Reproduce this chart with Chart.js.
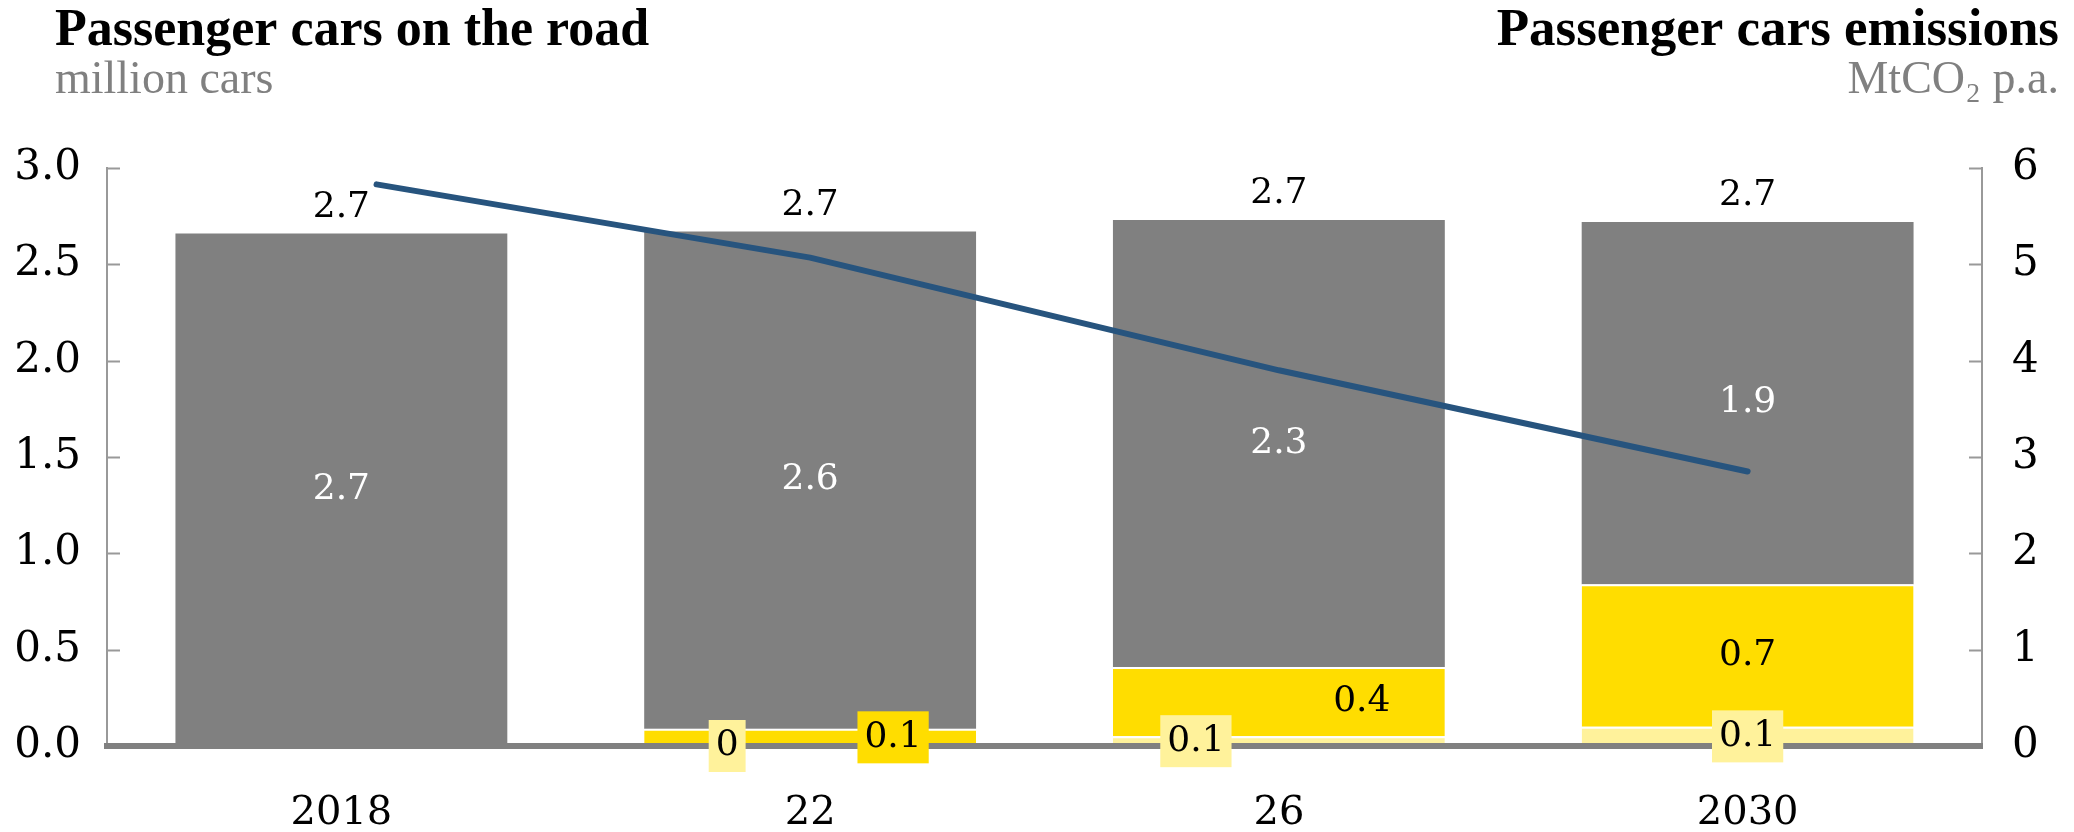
<!DOCTYPE html>
<html>
<head>
<meta charset="utf-8">
<script src="https://cdn.jsdelivr.net/npm/chart.js@4.4.1/dist/chart.umd.min.js"></script>
<style>
  html, body { margin: 0; padding: 0; background: #fff; }
  #wrap { width: 2074px; height: 832px; }
</style>
</head>
<body>
<div id="wrap"><canvas id="carsCanvas" width="2074" height="832"></canvas></div>
<script>
// data
var years = [2018, 2022, 2026, 2030];
var yearLabels = ['2018', '22', '26', '2030'];
var lightYellowCars = [null, 0, 0.05, 0.10];
var yellowCars = [null, 0.09, 0.36, 0.74];
var greyCars = [2.66, 2.58, 2.32, 1.88];
var emissionYears = [2018.3, 2022, 2026, 2030];
var emissions = [5.83, 5.07, 3.90, 2.85];

var barColors = ['#fff29b', '#ffdd00', '#808080'];
var labelShift = [[0, -0.25, -0.25, 0], [0, 0.25, 0.25, 0], [0, 0, 0, 0]];
var numFont = '36px "DejaVu Serif"';

function fmt(v) {
    if (v === 0) return '0';
    return (Math.round(v * 10) / 10).toFixed(1);
}

function points(xs, ys) {
    var out = [];
    for (var i = 0; i < xs.length; i++) out.push({ x: xs[i], y: ys[i] });
    return out;
}

var decorPlugin = {
    id: 'decor',
    afterDraw: function (chart) {
        var ctx = chart.ctx;
        var area = chart.chartArea;
        ctx.save();

        // inside tick marks
        ctx.strokeStyle = '#999';
        ctx.lineWidth = 2;
        ['y', 'y1'].forEach(function (id) {
            var sc = chart.scales[id];
            sc.ticks.forEach(function (t) {
                if (t.value === 0) return;
                var py = Math.round(sc.getPixelForValue(t.value)) + 0.5;
                ctx.beginPath();
                if (id === 'y') { ctx.moveTo(area.left, py); ctx.lineTo(area.left + 13, py); }
                else { ctx.moveTo(area.right, py); ctx.lineTo(area.right - 13, py); }
                ctx.stroke();
            });
        });

        // value labels
        ctx.font = numFont;
        ctx.textAlign = 'center';
        ctx.textBaseline = 'middle';
        for (var d = 0; d < 3; d++) {
            var meta = chart.getDatasetMeta(d + 1);
            var vals = chart.data.datasets[d + 1].data;
            meta.data.forEach(function (el, i) {
                var v = vals[i].y;
                if (v === null) return;
                var txt = fmt(v);
                var cx = el.x + labelShift[d][i] * el.width;
                var cy = (el.y + el.base) / 2;
                if (d === 2) {
                    ctx.fillStyle = '#fff';
                    ctx.fillText(txt, cx, cy);
                    // total above
                    var tot = (lightYellowCars[i] || 0) + (yellowCars[i] || 0) + greyCars[i];
                    ctx.fillStyle = '#000';
                    ctx.fillText(fmt(tot), el.x, el.y - 26);
                    return;
                }
                if (Math.abs(el.base - el.y) < 30) {
                    var w = ctx.measureText(txt).width + 14;
                    ctx.fillStyle = barColors[d];
                    ctx.fillRect(cx - w / 2, cy - 26, w, 52);
                }
                ctx.fillStyle = '#000';
                ctx.fillText(txt, cx, cy);
            });
        }

        // titles
        ctx.textBaseline = 'alphabetic';
        ctx.textAlign = 'left';
        ctx.fillStyle = '#000';
        ctx.font = 'bold 52px "Liberation Serif"';
        ctx.fillText('Passenger cars on the road', 55, 45);
        ctx.textAlign = 'right';
        ctx.font = 'bold 53px "Liberation Serif"';
        ctx.fillText('Passenger cars emissions', 2059, 45);
        ctx.fillStyle = '#808080';
        ctx.font = '46px "Liberation Serif"';
        ctx.textAlign = 'left';
        ctx.fillText('million cars', 55, 93);
        ctx.textAlign = 'right';
        ctx.fillText('MtCO\u2082 p.a.', 2059, 93);
        ctx.restore();
    }
};

var ctx = document.getElementById('carsCanvas').getContext('2d');
new Chart(ctx, {
    type: 'bar',
    data: {
        datasets: [{
            type: 'line',
            data: points(emissionYears, emissions),
            xAxisID: 'x',
            yAxisID: 'y1',
            borderColor: '#27547e',
            borderWidth: 6,
            pointRadius: 0,
            tension: 0,
            borderCapStyle: 'round',
            borderJoinStyle: 'round'
        }, {
            data: points(years, lightYellowCars),
            backgroundColor: barColors[0],
            borderColor: '#fff',
            borderWidth: { top: 2, left: 0, right: 0, bottom: 0 },
            yAxisID: 'y'
        }, {
            data: points(years, yellowCars),
            backgroundColor: barColors[1],
            borderColor: '#fff',
            borderWidth: { top: 2, left: 0, right: 0, bottom: 0 },
            yAxisID: 'y'
        }, {
            data: points(years, greyCars),
            backgroundColor: barColors[2],
            borderWidth: 0,
            yAxisID: 'y'
        }]
    },
    options: {
        responsive: false,
        animation: false,
        devicePixelRatio: 1,
        categoryPercentage: 1,
        barPercentage: 0.708,
        layout: { padding: { top: 168, left: 0, right: 0, bottom: 0 } },
        plugins: { legend: { display: false }, tooltip: { enabled: false } },
        scales: {
            x: {
                type: 'linear',
                min: 2016,
                max: 2032,
                offset: false,
                stacked: true,
                afterBuildTicks: function (sc) {
                    sc.ticks = years.map(function (y) { return { value: y }; });
                },
                afterFit: function (sc) { sc.height = 86; },
                grid: { display: false, drawTicks: false },
                border: { color: '#808080', width: 6, z: 2 },
                ticks: {
                    autoSkip: false,
                    maxRotation: 0,
                    padding: 44,
                    color: '#000',
                    font: { family: 'DejaVu Serif', size: 40 },
                    callback: function (v) { return yearLabels[years.indexOf(v)]; }
                }
            },
            y: {
                position: 'left',
                stacked: true,
                min: 0,
                max: 3,
                afterFit: function (sc) { sc.width = 107; },
                grid: { display: false, drawTicks: false },
                border: { color: '#999', width: 2 },
                ticks: {
                    stepSize: 0.5,
                    padding: 26,
                    color: '#000',
                    font: { family: 'DejaVu Serif', size: 42 },
                    callback: function (v) { return v.toFixed(1); }
                }
            },
            y1: {
                position: 'right',
                min: 0,
                max: 6,
                afterFit: function (sc) { sc.width = 92; },
                grid: { display: false, drawTicks: false },
                border: { color: '#999', width: 2 },
                ticks: {
                    stepSize: 1,
                    padding: 30,
                    color: '#000',
                    font: { family: 'DejaVu Serif', size: 42 }
                }
            }
        }
    },
    plugins: [decorPlugin]
});
</script>
</body>
</html>
